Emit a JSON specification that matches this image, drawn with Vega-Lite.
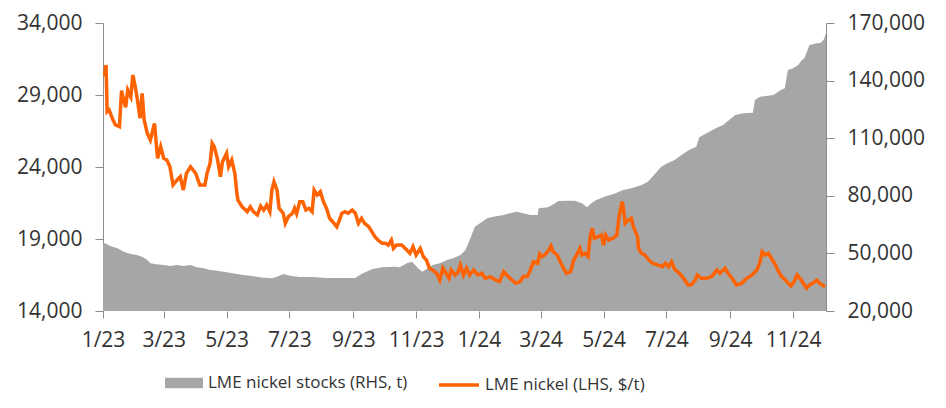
{
  "$schema": "https://vega.github.io/schema/vega-lite/v6.json",
  "autosize": {"type": "none"},
  "width": 723,
  "height": 288,
  "padding": {"left": 103, "top": 23, "right": 120, "bottom": 97},
  "background": "white",
  "config": {
    "view": {"stroke": null},
    "font": "Open Sans",
    "axis": {
      "labelFont": "Open Sans",
      "labelFontSize": 21,
      "labelColor": "#333333",
      "domainColor": "#8c8c8c",
      "tickColor": "#8c8c8c",
      "grid": false,
      "labelFlush": false,
      "labelOverlap": false,
      "title": null
    },
    "legend": {
      "labelFont": "Open Sans",
      "labelFontSize": 17,
      "labelColor": "#333333",
      "labelLimit": 0
    }
  },
  "datasets": {
    "stocks": [
      {"date": "2023-01-01", "stocks": 55300},
      {"date": "2023-01-03", "stocks": 55260},
      {"date": "2023-01-08", "stocks": 53850},
      {"date": "2023-01-15", "stocks": 52650},
      {"date": "2023-01-21", "stocks": 50890},
      {"date": "2023-01-28", "stocks": 49690},
      {"date": "2023-02-03", "stocks": 49170},
      {"date": "2023-02-09", "stocks": 47970},
      {"date": "2023-02-13", "stocks": 46560},
      {"date": "2023-02-16", "stocks": 44840},
      {"date": "2023-02-22", "stocks": 44320},
      {"date": "2023-03-01", "stocks": 43960},
      {"date": "2023-03-07", "stocks": 43440},
      {"date": "2023-03-14", "stocks": 43960},
      {"date": "2023-03-20", "stocks": 43440},
      {"date": "2023-03-27", "stocks": 43960},
      {"date": "2023-04-02", "stocks": 42760},
      {"date": "2023-04-09", "stocks": 42240},
      {"date": "2023-04-15", "stocks": 41350},
      {"date": "2023-04-22", "stocks": 41000},
      {"date": "2023-04-28", "stocks": 40470},
      {"date": "2023-05-04", "stocks": 39950},
      {"date": "2023-05-11", "stocks": 39270},
      {"date": "2023-05-17", "stocks": 38750},
      {"date": "2023-05-24", "stocks": 38390},
      {"date": "2023-05-30", "stocks": 37860},
      {"date": "2023-06-06", "stocks": 37340},
      {"date": "2023-06-14", "stocks": 37000},
      {"date": "2023-06-19", "stocks": 37860},
      {"date": "2023-06-25", "stocks": 39270},
      {"date": "2023-07-03", "stocks": 38230},
      {"date": "2023-07-11", "stocks": 37700},
      {"date": "2023-07-23", "stocks": 37700},
      {"date": "2023-08-05", "stocks": 37190},
      {"date": "2023-09-03", "stocks": 37190},
      {"date": "2023-09-09", "stocks": 39270},
      {"date": "2023-09-19", "stocks": 41700},
      {"date": "2023-09-29", "stocks": 42760},
      {"date": "2023-10-12", "stocks": 43070},
      {"date": "2023-10-16", "stocks": 42760},
      {"date": "2023-10-23", "stocks": 44840},
      {"date": "2023-10-28", "stocks": 45680},
      {"date": "2023-10-31", "stocks": 43960},
      {"date": "2023-11-03", "stocks": 42240},
      {"date": "2023-11-07", "stocks": 40470},
      {"date": "2023-11-11", "stocks": 41700},
      {"date": "2023-11-17", "stocks": 43960},
      {"date": "2023-11-24", "stocks": 44840},
      {"date": "2023-12-01", "stocks": 46560},
      {"date": "2023-12-07", "stocks": 47450},
      {"date": "2023-12-14", "stocks": 49170},
      {"date": "2023-12-19", "stocks": 51770},
      {"date": "2023-12-23", "stocks": 56980},
      {"date": "2023-12-28", "stocks": 63910},
      {"date": "2024-01-02", "stocks": 65680},
      {"date": "2024-01-09", "stocks": 68280},
      {"date": "2024-01-15", "stocks": 69110},
      {"date": "2024-01-25", "stocks": 70000},
      {"date": "2024-01-31", "stocks": 70890},
      {"date": "2024-02-07", "stocks": 71720},
      {"date": "2024-02-13", "stocks": 70890},
      {"date": "2024-02-20", "stocks": 70000},
      {"date": "2024-02-27", "stocks": 70000},
      {"date": "2024-02-28", "stocks": 73480},
      {"date": "2024-03-08", "stocks": 74000},
      {"date": "2024-03-15", "stocks": 76090},
      {"date": "2024-03-18", "stocks": 77290},
      {"date": "2024-03-28", "stocks": 77450},
      {"date": "2024-04-03", "stocks": 77450},
      {"date": "2024-04-10", "stocks": 76090},
      {"date": "2024-04-15", "stocks": 74000},
      {"date": "2024-04-19", "stocks": 76090},
      {"date": "2024-04-24", "stocks": 77810},
      {"date": "2024-05-02", "stocks": 79530},
      {"date": "2024-05-12", "stocks": 81250},
      {"date": "2024-05-20", "stocks": 83020},
      {"date": "2024-05-28", "stocks": 83900},
      {"date": "2024-06-07", "stocks": 85620},
      {"date": "2024-06-13", "stocks": 87340},
      {"date": "2024-06-19", "stocks": 90830},
      {"date": "2024-06-26", "stocks": 95160},
      {"date": "2024-07-02", "stocks": 96930},
      {"date": "2024-07-09", "stocks": 98650},
      {"date": "2024-07-15", "stocks": 101000},
      {"date": "2024-07-23", "stocks": 103850},
      {"date": "2024-07-30", "stocks": 105570},
      {"date": "2024-08-02", "stocks": 110470},
      {"date": "2024-08-09", "stocks": 112550},
      {"date": "2024-08-18", "stocks": 115160},
      {"date": "2024-08-25", "stocks": 116880},
      {"date": "2024-08-31", "stocks": 119480},
      {"date": "2024-09-06", "stocks": 122080},
      {"date": "2024-09-14", "stocks": 122970},
      {"date": "2024-09-23", "stocks": 123280},
      {"date": "2024-09-25", "stocks": 129900},
      {"date": "2024-09-30", "stocks": 131610},
      {"date": "2024-10-13", "stocks": 132500},
      {"date": "2024-10-19", "stocks": 134740},
      {"date": "2024-10-24", "stocks": 135990},
      {"date": "2024-10-27", "stocks": 145520},
      {"date": "2024-11-01", "stocks": 146400},
      {"date": "2024-11-06", "stocks": 148120},
      {"date": "2024-11-09", "stocks": 150360},
      {"date": "2024-11-12", "stocks": 151610},
      {"date": "2024-11-17", "stocks": 158540},
      {"date": "2024-11-24", "stocks": 159430},
      {"date": "2024-11-28", "stocks": 159740},
      {"date": "2024-12-01", "stocks": 161510},
      {"date": "2024-12-03", "stocks": 164640}
    ],
    "prices": [
      {"date": "2023-01-02", "price": 30270},
      {"date": "2023-01-04", "price": 31080},
      {"date": "2023-01-05", "price": 27840},
      {"date": "2023-01-07", "price": 27960},
      {"date": "2023-01-10", "price": 27380},
      {"date": "2023-01-13", "price": 26920},
      {"date": "2023-01-17", "price": 26800},
      {"date": "2023-01-19", "price": 29300},
      {"date": "2023-01-21", "price": 28650},
      {"date": "2023-01-23", "price": 28150},
      {"date": "2023-01-25", "price": 29350},
      {"date": "2023-01-28", "price": 28880},
      {"date": "2023-01-30", "price": 30390},
      {"date": "2023-02-01", "price": 29690},
      {"date": "2023-02-03", "price": 28880},
      {"date": "2023-02-06", "price": 27380},
      {"date": "2023-02-08", "price": 29120},
      {"date": "2023-02-10", "price": 27260},
      {"date": "2023-02-13", "price": 26340},
      {"date": "2023-02-16", "price": 25875},
      {"date": "2023-02-20", "price": 27030},
      {"date": "2023-02-23", "price": 24600},
      {"date": "2023-02-26", "price": 25410},
      {"date": "2023-03-01", "price": 24600},
      {"date": "2023-03-04", "price": 24490},
      {"date": "2023-03-07", "price": 24020},
      {"date": "2023-03-10", "price": 22750},
      {"date": "2023-03-14", "price": 23100},
      {"date": "2023-03-17", "price": 23330},
      {"date": "2023-03-20", "price": 22400},
      {"date": "2023-03-23", "price": 23560},
      {"date": "2023-03-27", "price": 24020},
      {"date": "2023-04-01", "price": 23560},
      {"date": "2023-04-05", "price": 22750},
      {"date": "2023-04-10", "price": 22750},
      {"date": "2023-04-12", "price": 23560},
      {"date": "2023-04-15", "price": 24260},
      {"date": "2023-04-17", "price": 25640},
      {"date": "2023-04-19", "price": 25410},
      {"date": "2023-04-22", "price": 24600},
      {"date": "2023-04-25", "price": 23330},
      {"date": "2023-04-27", "price": 24370},
      {"date": "2023-05-01", "price": 24950},
      {"date": "2023-05-03", "price": 24020},
      {"date": "2023-05-06", "price": 24490},
      {"date": "2023-05-09", "price": 23560},
      {"date": "2023-05-11", "price": 22170},
      {"date": "2023-05-12", "price": 21700},
      {"date": "2023-05-16", "price": 21240},
      {"date": "2023-05-21", "price": 20900},
      {"date": "2023-05-24", "price": 21240},
      {"date": "2023-05-27", "price": 20900},
      {"date": "2023-05-31", "price": 20670},
      {"date": "2023-06-03", "price": 21290},
      {"date": "2023-06-06", "price": 21010},
      {"date": "2023-06-09", "price": 21360},
      {"date": "2023-06-12", "price": 20900},
      {"date": "2023-06-14", "price": 22400},
      {"date": "2023-06-16", "price": 22980},
      {"date": "2023-06-19", "price": 22400},
      {"date": "2023-06-21", "price": 21130},
      {"date": "2023-06-25", "price": 20790},
      {"date": "2023-06-27", "price": 20090},
      {"date": "2023-06-30", "price": 20550},
      {"date": "2023-07-04", "price": 20790},
      {"date": "2023-07-06", "price": 21130},
      {"date": "2023-07-08", "price": 20750},
      {"date": "2023-07-11", "price": 21590},
      {"date": "2023-07-14", "price": 21590},
      {"date": "2023-07-17", "price": 21010},
      {"date": "2023-07-20", "price": 21130},
      {"date": "2023-07-23", "price": 20900},
      {"date": "2023-07-25", "price": 22400},
      {"date": "2023-07-28", "price": 22060},
      {"date": "2023-07-31", "price": 22290},
      {"date": "2023-08-03", "price": 21590},
      {"date": "2023-08-06", "price": 21130},
      {"date": "2023-08-09", "price": 20440},
      {"date": "2023-08-12", "price": 20200},
      {"date": "2023-08-16", "price": 19850},
      {"date": "2023-08-18", "price": 20200},
      {"date": "2023-08-21", "price": 20790},
      {"date": "2023-08-24", "price": 20900},
      {"date": "2023-08-27", "price": 20790},
      {"date": "2023-08-31", "price": 21010},
      {"date": "2023-09-03", "price": 20790},
      {"date": "2023-09-06", "price": 20090},
      {"date": "2023-09-09", "price": 20440},
      {"date": "2023-09-12", "price": 20090},
      {"date": "2023-09-16", "price": 19850},
      {"date": "2023-09-19", "price": 19510},
      {"date": "2023-09-22", "price": 19160},
      {"date": "2023-09-25", "price": 18930},
      {"date": "2023-09-29", "price": 18700},
      {"date": "2023-10-02", "price": 18700},
      {"date": "2023-10-05", "price": 18580},
      {"date": "2023-10-08", "price": 18930},
      {"date": "2023-10-10", "price": 18350},
      {"date": "2023-10-13", "price": 18580},
      {"date": "2023-10-18", "price": 18580},
      {"date": "2023-10-23", "price": 18240},
      {"date": "2023-10-26", "price": 18000},
      {"date": "2023-10-29", "price": 18470},
      {"date": "2023-11-01", "price": 17890},
      {"date": "2023-11-05", "price": 18350},
      {"date": "2023-11-08", "price": 17780},
      {"date": "2023-11-11", "price": 17540},
      {"date": "2023-11-14", "price": 16970},
      {"date": "2023-11-17", "price": 16850},
      {"date": "2023-11-21", "price": 16620},
      {"date": "2023-11-24", "price": 16150},
      {"date": "2023-11-27", "price": 16970},
      {"date": "2023-11-30", "price": 16620},
      {"date": "2023-12-03", "price": 16270},
      {"date": "2023-12-05", "price": 16850},
      {"date": "2023-12-09", "price": 16500},
      {"date": "2023-12-12", "price": 16730},
      {"date": "2023-12-14", "price": 17190},
      {"date": "2023-12-17", "price": 16500},
      {"date": "2023-12-20", "price": 16970},
      {"date": "2023-12-23", "price": 16500},
      {"date": "2023-12-27", "price": 16850},
      {"date": "2023-12-31", "price": 16500},
      {"date": "2024-01-04", "price": 16620},
      {"date": "2024-01-07", "price": 16270},
      {"date": "2024-01-12", "price": 16390},
      {"date": "2024-01-17", "price": 16150},
      {"date": "2024-01-21", "price": 16040},
      {"date": "2024-01-25", "price": 16730},
      {"date": "2024-01-28", "price": 16500},
      {"date": "2024-02-02", "price": 16150},
      {"date": "2024-02-06", "price": 15920},
      {"date": "2024-02-10", "price": 16040},
      {"date": "2024-02-13", "price": 16390},
      {"date": "2024-02-17", "price": 16390},
      {"date": "2024-02-20", "price": 16850},
      {"date": "2024-02-23", "price": 17420},
      {"date": "2024-02-27", "price": 17310},
      {"date": "2024-02-29", "price": 17950},
      {"date": "2024-03-02", "price": 17780},
      {"date": "2024-03-05", "price": 17890},
      {"date": "2024-03-09", "price": 18240},
      {"date": "2024-03-11", "price": 18510},
      {"date": "2024-03-13", "price": 18120},
      {"date": "2024-03-17", "price": 17890},
      {"date": "2024-03-20", "price": 17420},
      {"date": "2024-03-23", "price": 16970},
      {"date": "2024-03-26", "price": 16620},
      {"date": "2024-03-30", "price": 16730},
      {"date": "2024-04-02", "price": 17540},
      {"date": "2024-04-05", "price": 17890},
      {"date": "2024-04-08", "price": 18350},
      {"date": "2024-04-10", "price": 17890},
      {"date": "2024-04-13", "price": 18000},
      {"date": "2024-04-16", "price": 17780},
      {"date": "2024-04-18", "price": 19160},
      {"date": "2024-04-20", "price": 19740},
      {"date": "2024-04-22", "price": 19050},
      {"date": "2024-04-26", "price": 19160},
      {"date": "2024-04-29", "price": 19280},
      {"date": "2024-05-01", "price": 18580},
      {"date": "2024-05-03", "price": 19280},
      {"date": "2024-05-06", "price": 18930},
      {"date": "2024-05-10", "price": 19050},
      {"date": "2024-05-14", "price": 19280},
      {"date": "2024-05-16", "price": 20550},
      {"date": "2024-05-19", "price": 21590},
      {"date": "2024-05-20", "price": 21240},
      {"date": "2024-05-22", "price": 20090},
      {"date": "2024-05-25", "price": 20300},
      {"date": "2024-05-28", "price": 20440},
      {"date": "2024-05-30", "price": 19850},
      {"date": "2024-06-03", "price": 19160},
      {"date": "2024-06-04", "price": 18350},
      {"date": "2024-06-07", "price": 18000},
      {"date": "2024-06-10", "price": 17890},
      {"date": "2024-06-14", "price": 17540},
      {"date": "2024-06-18", "price": 17310},
      {"date": "2024-06-23", "price": 17190},
      {"date": "2024-06-27", "price": 17080},
      {"date": "2024-06-30", "price": 17310},
      {"date": "2024-07-03", "price": 17080},
      {"date": "2024-07-06", "price": 17420},
      {"date": "2024-07-09", "price": 16900},
      {"date": "2024-07-14", "price": 16600},
      {"date": "2024-07-19", "price": 16150},
      {"date": "2024-07-22", "price": 15810},
      {"date": "2024-07-25", "price": 15810},
      {"date": "2024-07-29", "price": 16150},
      {"date": "2024-07-31", "price": 16500},
      {"date": "2024-08-04", "price": 16270},
      {"date": "2024-08-09", "price": 16270},
      {"date": "2024-08-14", "price": 16390},
      {"date": "2024-08-19", "price": 16850},
      {"date": "2024-08-22", "price": 16620},
      {"date": "2024-08-27", "price": 16970},
      {"date": "2024-08-30", "price": 16620},
      {"date": "2024-09-04", "price": 16150},
      {"date": "2024-09-07", "price": 15810},
      {"date": "2024-09-12", "price": 15920},
      {"date": "2024-09-17", "price": 16270},
      {"date": "2024-09-22", "price": 16500},
      {"date": "2024-09-27", "price": 16850},
      {"date": "2024-09-30", "price": 17420},
      {"date": "2024-10-02", "price": 18120},
      {"date": "2024-10-05", "price": 17890},
      {"date": "2024-10-08", "price": 18000},
      {"date": "2024-10-12", "price": 17540},
      {"date": "2024-10-15", "price": 17190},
      {"date": "2024-10-18", "price": 16730},
      {"date": "2024-10-21", "price": 16390},
      {"date": "2024-10-26", "price": 16040},
      {"date": "2024-10-30", "price": 15740},
      {"date": "2024-11-02", "price": 16040},
      {"date": "2024-11-05", "price": 16500},
      {"date": "2024-11-09", "price": 16150},
      {"date": "2024-11-14", "price": 15580},
      {"date": "2024-11-17", "price": 15810},
      {"date": "2024-11-20", "price": 15920},
      {"date": "2024-11-24", "price": 16150},
      {"date": "2024-11-27", "price": 15920},
      {"date": "2024-12-02", "price": 15690}
    ]
  },
  "encoding": {
    "x": {
      "field": "date",
      "type": "temporal",
      "scale": {
        "type": "utc",
        "domain": [
          {"year": 2023, "month": 1, "date": 1, "utc": true},
          {"year": 2024, "month": 12, "date": 3, "utc": true}
        ]
      },
      "axis": {
        "values": [
          {"year": 2023, "month": 1, "date": 1, "utc": true},
          {"year": 2023, "month": 3, "date": 1, "utc": true},
          {"year": 2023, "month": 5, "date": 1, "utc": true},
          {"year": 2023, "month": 7, "date": 1, "utc": true},
          {"year": 2023, "month": 9, "date": 1, "utc": true},
          {"year": 2023, "month": 11, "date": 1, "utc": true},
          {"year": 2024, "month": 1, "date": 1, "utc": true},
          {"year": 2024, "month": 3, "date": 1, "utc": true},
          {"year": 2024, "month": 5, "date": 1, "utc": true},
          {"year": 2024, "month": 7, "date": 1, "utc": true},
          {"year": 2024, "month": 9, "date": 1, "utc": true},
          {"year": 2024, "month": 11, "date": 1, "utc": true}
        ],
        "labelExpr": "utcFormat(datum.value, '%-m/%y')",
        "tickSize": 7,
        "labelPadding": 11,
        "domain": false
      }
    }
  },
  "layer": [
    {
      "data": {"name": "stocks"},
      "mark": {"type": "area", "clip": true, "opacity": 1},
      "encoding": {
        "y": {
          "field": "stocks",
          "type": "quantitative",
          "scale": {"domain": [20000, 170000], "nice": false, "zero": false},
          "axis": {
            "orient": "right",
            "values": [20000, 50000, 80000, 110000, 140000, 170000],
            "format": ",.0f",
            "tickSize": 8,
            "labelPadding": 13
          }
        },
        "fill": {
          "datum": "LME nickel stocks (RHS, t)",
          "type": "nominal",
          "scale": {"range": ["#a6a6a6"]},
          "legend": {
            "title": null,
            "orient": "none",
            "legendX": 62,
            "legendY": 341,
            "padding": 0,
            "symbolType": "M-1,-0.27L1,-0.27L1,0.27L-1,0.27Z",
            "symbolSize": 1444,
            "symbolStrokeWidth": 0,
            "labelOffset": 5,
            "labelLimit": 0
          }
        }
      }
    },
    {
      "data": {"name": "prices"},
      "mark": {"type": "line", "strokeWidth": 3.5, "clip": true},
      "encoding": {
        "y": {
          "field": "price",
          "type": "quantitative",
          "scale": {"domain": [14000, 34000], "nice": false, "zero": false},
          "axis": {
            "orient": "left",
            "values": [14000, 19000, 24000, 29000, 34000],
            "format": ",.0f",
            "tickSize": 8,
            "labelPadding": 13
          }
        },
        "stroke": {
          "datum": "LME nickel (LHS, $/t)",
          "type": "nominal",
          "scale": {"range": ["#ff6200"]},
          "legend": {
            "title": null,
            "orient": "none",
            "legendX": 334,
            "legendY": 340,
            "padding": 0,
            "symbolType": "stroke",
            "symbolSize": 1600,
            "symbolStrokeWidth": 3.5,
            "labelOffset": 4,
            "labelLimit": 0
          }
        }
      }
    },
    {
      "data": {"values": [{"a": 1}]},
      "mark": {"type": "rule", "color": "#8c8c8c", "strokeWidth": 1},
      "encoding": {
        "y": {"value": 288}
      }
    }
  ],
  "resolve": {"scale": {"y": "independent"}}
}
